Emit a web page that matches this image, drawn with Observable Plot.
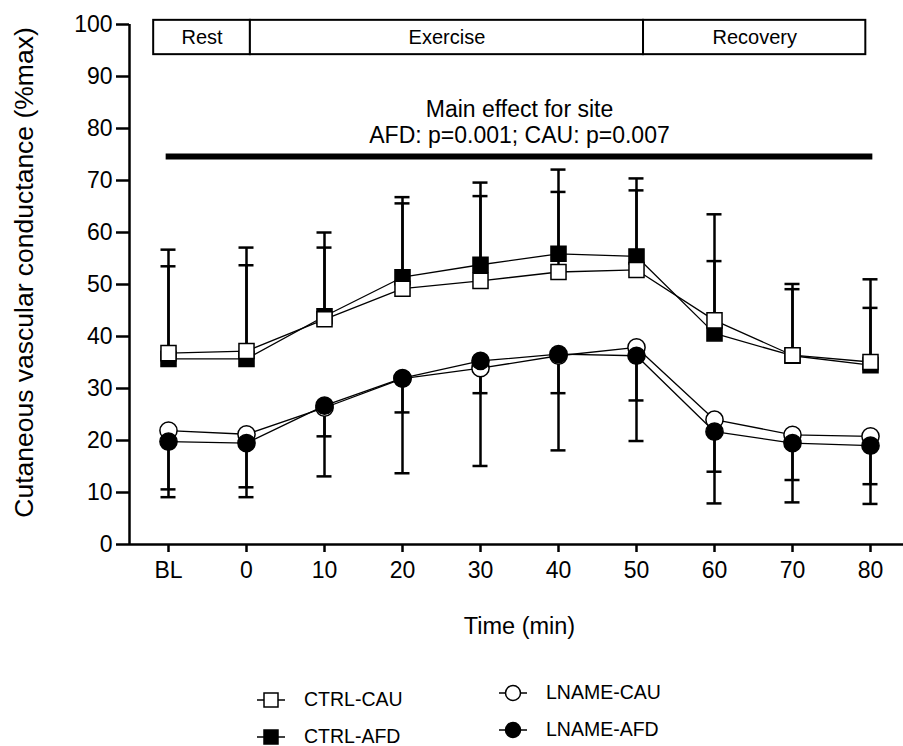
<!DOCTYPE html>
<html><head><meta charset="utf-8">
<script src="https://cdn.jsdelivr.net/npm/d3@7"></script>
<script src="https://cdn.jsdelivr.net/npm/@observablehq/plot@0.6"></script>
<style>
body{margin:0;background:#fff;font-family:"Liberation Sans",Arial,sans-serif;}
#legend{position:relative;width:903px;height:76px;}
.item{position:absolute;display:flex;align-items:center;font-size:19.5px;color:#000;line-height:1;height:20px;}
.item svg{margin-right:19px;overflow:visible;}
</style></head><body>
<div id="chart"></div>
<div id="legend"></div>
<script>
const timeLabels = ["BL","0","10","20","30","40","50","60","70","80"];
const seriesNames = ["CTRL-AFD","CTRL-CAU","LNAME-CAU","LNAME-AFD"];

const ctrlCau  = [36.8, 37.2, 43.3, 49.2, 50.7, 52.4, 52.8, 43.1, 36.4, 35.1];
const ctrlAfd  = [35.7, 35.7, 43.9, 51.4, 53.8, 55.9, 55.4, 40.6, 36.3, 34.5];
const lnameCau = [21.9, 21.2, 26.3, 31.9, 33.9, 36.3, 37.9, 24.0, 21.1, 20.8];
const lnameAfd = [19.8, 19.5, 26.7, 32.0, 35.3, 36.6, 36.3, 21.7, 19.5, 19.0];

const ctrlCauSD  = [16.7, 16.5, 13.8, 16.4, 16.3, 15.4, 15.3, 11.4, 12.7, 10.4];
const ctrlAfdSD  = [21.0, 21.4, 16.1, 15.4, 15.8, 16.2, 15.0, 22.9, 13.8, 16.5];
const lnameCauSD = [11.3, 10.2, 5.5, 6.5, 4.8, 7.2, 10.2, 10.0, 8.7, 9.2];
const lnameAfdSD = [10.7, 10.4, 13.6, 18.3, 20.2, 18.5, 16.4, 13.8, 11.4, 11.2];

const phaseLabels = ["Rest","Exercise","Recovery"];
const phaseStart = [-0.19, 1.05, 6.09];
const phaseEnd = [1.05, 6.09, 8.94];
const phaseBottom = 94.2, phaseTop = 100.8;

const siteText = "Main effect for site\nAFD: p=0.001; CAU: p=0.007";
const siteBarStart = -0.03, siteBarEnd = 9.03, siteBarY = 74.6;

const yLabel = "Cutaneous vascular conductance (%max)";
const xLabel = "Time (min)";

const series = [
  {name: "CTRL-AFD", values: ctrlAfd, sd: ctrlAfdSD, dir: 1, symbol: "square", fill: "black"},
  {name: "CTRL-CAU", values: ctrlCau, sd: ctrlCauSD, dir: 1, symbol: "square", fill: "white"},
  {name: "LNAME-CAU", values: lnameCau, sd: lnameCauSD, dir: -1, symbol: "circle", fill: "white"},
  {name: "LNAME-AFD", values: lnameAfd, sd: lnameAfdSD, dir: -1, symbol: "circle", fill: "black"}
];
const rows = [];
series.forEach(s => s.values.forEach((v, i) => rows.push({series: s.name, i, t: timeLabels[i], v, end: v + s.dir * s.sd[i]})));
const idx = d => timeLabels.indexOf(d.t);
const phases = phaseLabels.map((p, k) => ({p, a: phaseStart[k], b: phaseEnd[k]}));

const font = "'Liberation Sans', Arial, sans-serif";
const marks = [
  // error bars
  Plot.ruleX(rows, {x: idx, y1: "v", y2: "end", stroke: "black", strokeWidth: 2.5}),
  Plot.ruleY(rows, {x1: idx, x2: idx, y: "end", insetLeft: -7.5, insetRight: -7.5, stroke: "black", strokeWidth: 2.5}),
];
series.forEach(s => {
  marks.push(Plot.line(rows.filter(r => r.series === s.name), {x: idx, y: "v", stroke: "black", strokeWidth: 1.3}));
});
series.forEach(s => {
  marks.push(Plot.dot(rows.filter(r => r.series === s.name), {x: idx, y: "v", symbol: s.symbol, r: s.symbol === "square" ? 8.5 : 8.6, fill: s.fill, stroke: "black", strokeWidth: 1.5}));
});

const chart = Plot.plot({
  width: 903, height: 670,
  marginTop: 24, marginBottom: 126, marginLeft: 129, marginRight: 0,
  style: {fontFamily: font, background: "white", color: "black", overflow: "visible"},
  x: {type: "linear", domain: [-0.5, 9.5], range: [129, 909]},
  y: {domain: [0, 100]},
  marks: [
    Plot.axisY({ticks: d3.range(0, 101, 10), tickSize: 13, tickPadding: 4, fontSize: 23, strokeWidth: 2.5, label: null}),
    Plot.axisX({ticks: d3.range(0, timeLabels.length), tickFormat: i => timeLabels[i], tickSize: 8, tickPadding: 9, fontSize: 23, strokeWidth: 2.5, label: null}),
    Plot.ruleX([-0.5], {y1: 0, y2: 100, stroke: "black", strokeWidth: 2.5}),
    Plot.ruleY([0], {x1: -0.5, x2: 9.5, stroke: "black", strokeWidth: 2.5}),
    Plot.rect(phases, {x1: "a", x2: "b", y1: phaseBottom, y2: phaseTop, fill: "white", stroke: "black", strokeWidth: 2}),
    Plot.text(phases, {x: d => (d.a + d.b) / 2, y: (phaseBottom + phaseTop) / 2, text: "p", fontSize: 20, fill: "black", lineAnchor: "middle"}),
    Plot.ruleY([siteBarY], {x1: siteBarStart, x2: siteBarEnd, stroke: "black", strokeWidth: 6}),
    Plot.text([siteText], {x: (siteBarStart + siteBarEnd) / 2, y: siteBarY, text: d => d, dy: -14, lineAnchor: "bottom", lineHeight: 1.12, fontSize: 23, fill: "black"}),
    Plot.text([yLabel], {frameAnchor: "left", text: d => d, rotate: -90, textAnchor: "middle", dx: -105, dy: -12, fontSize: 26.5, lineAnchor: "middle", fill: "black"}),
    Plot.text([xLabel], {frameAnchor: "bottom", text: d => d, textAnchor: "middle", dx: 3, dy: 89, fontSize: 23.5, lineAnchor: "bottom", fill: "black"}),
    ...marks
  ]
});
document.getElementById("chart").appendChild(chart);

// legend
const legendPos = {"CTRL-CAU": [257, 30], "CTRL-AFD": [257, 67], "LNAME-CAU": [499, 23], "LNAME-AFD": [499, 60]};
const legend = document.getElementById("legend");
["CTRL-CAU", "CTRL-AFD", "LNAME-CAU", "LNAME-AFD"].forEach(name => {
  const s = series.find(d => d.name === name);
  const [lx, ly] = legendPos[name];
  const item = document.createElement("div");
  item.className = "item";
  item.style.left = lx + "px";
  item.style.top = (ly - 10) + "px";
  const shape = s.symbol === "square"
    ? `<rect x="7" y="3" width="14" height="14" fill="${s.fill}" stroke="black" stroke-width="1.5"/>`
    : `<circle cx="14" cy="10" r="7.5" fill="${s.fill}" stroke="black" stroke-width="1.5"/>`;
  item.innerHTML = `<svg width="28" height="20"><line x1="0" x2="28" y1="10" y2="10" stroke="black" stroke-width="1.5"/>${shape}</svg><span>${name}</span>`;
  legend.appendChild(item);
});
</script></body></html>
